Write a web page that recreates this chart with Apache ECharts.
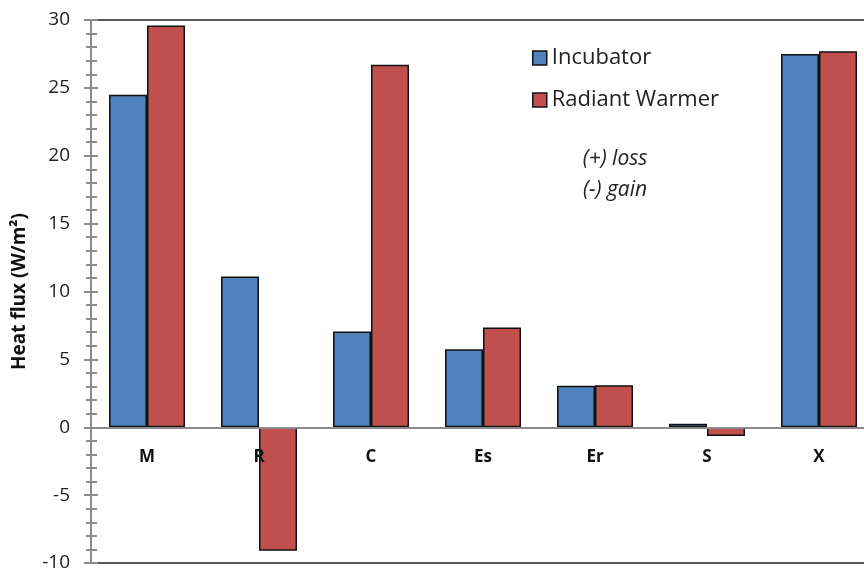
<!DOCTYPE html>
<html>
<head>
<meta charset="utf-8">
<script src="https://cdn.jsdelivr.net/npm/echarts@6/dist/echarts.min.js"></script>
<style>html,body{margin:0;padding:0;background:#fff}#c{width:864px;height:569px}</style>
</head>
<body>
<div id="c"></div>
<script>
const categories = ['M', 'R', 'C', 'Es', 'Er', 'S', 'X'];
const incubator = [24.5, 11.1, 7.05, 5.75, 3.05, 0.25, 27.5];
const radiantWarmer = [29.6, -9.1, 26.7, 7.35, 3.1, -0.65, 27.7];
const seriesNames = ['Incubator', 'Radiant Warmer'];
const yTicks = { min: -10, max: 30, interval: 5 };
const yTitle = 'Heat flux (W/m²)';
const notes = ['(+) loss', '(-) gain'];

const FONT = '"Open Sans", "Liberation Sans", sans-serif';
const chart = echarts.init(document.getElementById('c'), null, { renderer: 'canvas' });
const axisGray = '#8c8c8c';
const barStyle = (c) => ({ color: c, borderColor: '#111', borderWidth: 1.5 });
const GRID_H = 543;
// place the category axis (line + labels) at value 0
const zeroOffset = -GRID_H * (0 - yTicks.min) / (yTicks.max - yTicks.min);

chart.setOption({
  animation: false,
  textStyle: { fontFamily: FONT },
  grid: { left: 91, top: 20, width: 784, height: GRID_H, show: true, borderColor: '#222', borderWidth: 1.5, backgroundColor: 'transparent', containLabel: false, outerBoundsMode: 'none' },
  legend: {
    orient: 'vertical', left: 527, top: 42, itemGap: 20,
    itemWidth: 14, itemHeight: 14, icon: 'rect',
    textStyle: { fontSize: 22, color: '#222', fontFamily: FONT, padding: [0, 0, 0, 0] },
    data: seriesNames.map((n) => ({ name: n, itemStyle: { borderColor: '#111', borderWidth: 1.5 } }))
  },
  graphic: notes.map((t, i) => ({
    type: 'text',
    style: { text: t, x: 615, y: 159 + i * 31, fill: '#222', font: 'italic 21px ' + FONT, textAlign: 'center', textVerticalAlign: 'middle' }
  })),
  xAxis: {
    type: 'category', data: categories, position: 'bottom', offset: zeroOffset, z: 5,
    axisLine: { onZero: false, lineStyle: { color: axisGray, width: 2 } },
    axisTick: { show: false },
    axisLabel: { margin: 21, fontSize: 17, fontWeight: 'bold', color: '#111', fontFamily: FONT },
    splitLine: { show: false }
  },
  yAxis: [{
    type: 'value', min: yTicks.min, max: yTicks.max, interval: yTicks.interval,
    name: yTitle, nameLocation: 'middle', nameGap: 62, nameRotate: 90,
    nameTextStyle: { fontSize: 19, fontWeight: 'bold', color: '#111', fontFamily: FONT },
    axisLine: { show: true, lineStyle: { color: axisGray, width: 2 } },
    axisTick: { show: true, length: 7, lineStyle: { color: axisGray, width: 2 } },
    minorTick: { show: true, splitNumber: 5, length: 5, lineStyle: { color: axisGray, width: 2 } },
    axisLabel: { margin: 21, fontSize: 19, color: '#222', fontFamily: FONT },
    splitLine: { show: false }, minorSplitLine: { show: false }
  }, {
    type: 'value', position: 'left', min: yTicks.min, max: yTicks.max, interval: yTicks.interval,
    axisLine: { show: false },
    axisTick: { show: true, inside: true, length: 7, lineStyle: { color: axisGray, width: 2 } },
    minorTick: { show: true, splitNumber: 5, length: 6, lineStyle: { color: axisGray, width: 2 } },
    axisLabel: { show: false }, splitLine: { show: false }, minorSplitLine: { show: false }
  }],
  series: [
    { name: seriesNames[0], type: 'bar', data: incubator, barWidth: 38, barGap: '0%', itemStyle: barStyle('#4F81BD') },
    { name: seriesNames[1], type: 'bar', data: radiantWarmer, barWidth: 38, barGap: '0%', itemStyle: barStyle('#C0504D') }
  ]
});
</script>
</body>
</html>
